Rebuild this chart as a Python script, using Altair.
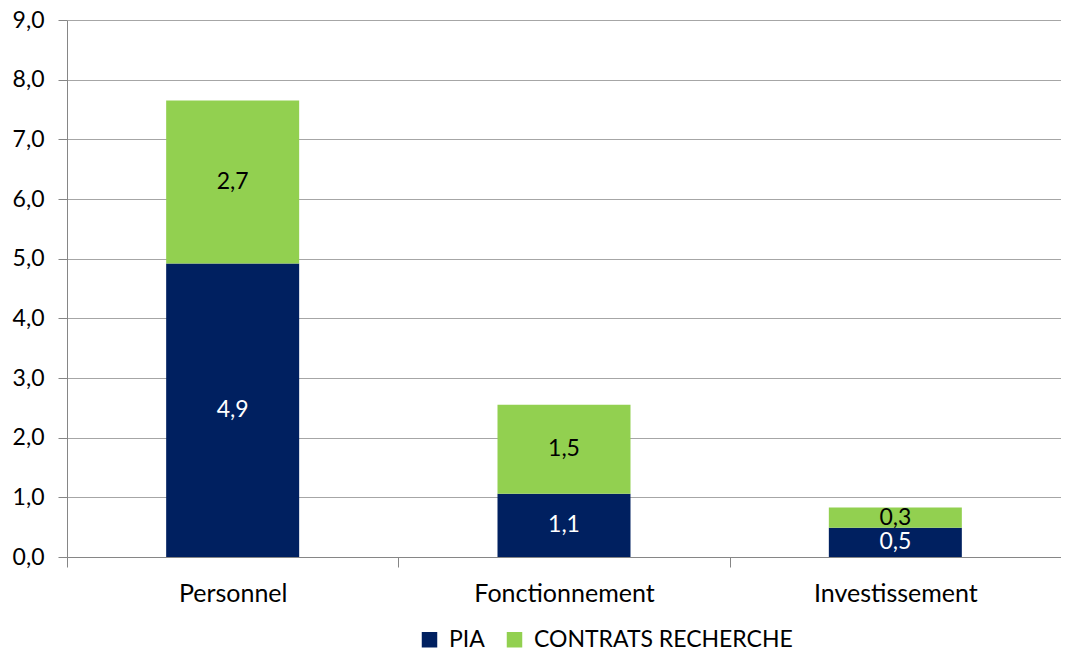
import altair as alt
import pandas as pd

categories = ["Personnel", "Fonctionnement", "Investissement"]
series = ["PIA", "CONTRATS RECHERCHE"]
pia = [4.92, 1.06, 0.49]
contrats = [2.73, 1.49, 0.34]
y_ticks = [0, 1, 2, 3, 4, 5, 6, 7, 8, 9]

rows = []
for i, c in enumerate(categories):
    rows.append({"cat": c, "series": series[0], "value": pia[i], "ord": 0})
    rows.append({"cat": c, "series": series[1], "value": contrats[i], "ord": 1})
df = pd.DataFrame(rows)

FONT = "Lato"
GRID = "#A6A6A6"

base = alt.Chart(df).transform_stack(
    stack="value", groupby=["cat"], sort=[alt.SortField("ord")], as_=["y0", "y1"]
).transform_calculate(
    mid="(datum.y0 + datum.y1) / 2",
    label="replace(format(datum.value, '.1f'), '.', ',')",
)

xenc = alt.X(
    "cat:N",
    sort=categories,
    scale=alt.Scale(paddingInner=0, paddingOuter=0),
    axis=alt.Axis(
        title=None, labelAngle=0, labelFontSize=25, labelFont=FONT, labelColor="#000000",
        tickBand="extent", tickSize=10, tickColor="#868686", domainColor="#868686",
        labelPadding=14, grid=False, labelLimit=400,
    ),
)

bars = base.mark_bar(size=133).encode(
    x=xenc,
    y=alt.Y(
        "y0:Q",
        scale=alt.Scale(domain=[0, 9], nice=False),
        axis=alt.Axis(
            title=None, values=y_ticks, labelFontSize=23, labelFont=FONT, labelColor="#000000",
            labelExpr="replace(format(datum.value, '.1f'), '.', ',')",
            tickSize=9, tickColor="#868686", domainColor="#868686",
            gridColor=GRID, labelPadding=14,
        ),
    ),
    y2="y1:Q",
    color=alt.Color(
        "series:N",
        scale=alt.Scale(domain=series, range=["#002060", "#92D050"]),
        legend=alt.Legend(
            title=None, orient="none", legendX=351, legendY=608, direction="horizontal",
            symbolType="square", symbolSize=240, symbolStrokeWidth=0,
            labelFontSize=23, labelFont=FONT, labelColor="#000000", columnPadding=18,
            labelOffset=8, labelLimit=400,
        ),
    ),
    order=alt.Order("ord:Q"),
)

labels = base.mark_text(fontSize=23, font=FONT, baseline="middle").encode(
    x=alt.X("cat:N", sort=categories),
    y=alt.Y("mid:Q"),
    text="label:N",
    color=alt.condition(alt.datum.series == "PIA", alt.value("white"), alt.value("black")),
)

chart = alt.layer(bars, labels).properties(
    width=994, height=537,
    autosize=alt.AutoSizeParams(type="none"),
    padding={"left": 59, "top": 12, "right": 0, "bottom": 93},
).configure_view(stroke=None).configure_axisX(grid=False)

chart.save("out.html", embed_options={"renderer": "svg", "actions": False})
